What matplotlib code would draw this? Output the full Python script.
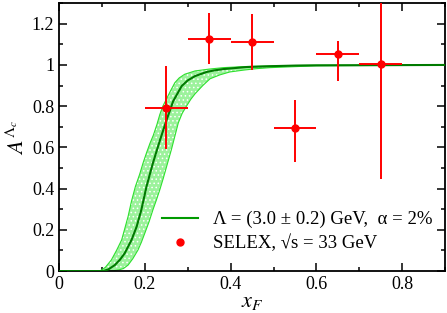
import matplotlib
matplotlib.use("Agg")
import matplotlib.pyplot as plt
from matplotlib.lines import Line2D
from matplotlib.ticker import MultipleLocator, FuncFormatter

# SELEX data points
x_data = [0.25, 0.35, 0.45, 0.55, 0.65, 0.75]
y_data = [0.793, 1.125, 1.112, 0.693, 1.054, 1.003]
y_err_lo = [0.20, 0.12, 0.135, 0.165, 0.13, 0.556]
y_err_hi = [0.20, 0.125, 0.137, 0.136, 0.061, 0.40]
x_err = [0.05, 0.05, 0.05, 0.05, 0.05, 0.05]

# central curve
x_mid = [0.0, 0.103, 0.115, 0.130, 0.142, 0.153, 0.169, 0.181, 0.192, 0.204,
         0.219, 0.235, 0.251, 0.266, 0.286, 0.300, 0.317, 0.344, 0.360, 0.383,
         0.437, 0.492, 0.55, 0.6, 0.9]
y_mid = [0.0, 0.0, 0.008, 0.029, 0.055, 0.086, 0.151, 0.216, 0.298, 0.411,
         0.525, 0.633, 0.735, 0.824, 0.898, 0.925, 0.946, 0.966, 0.973, 0.980,
         0.990, 0.994, 0.997, 0.998, 1.0]

# band edges
x_up = [0.0, 0.095, 0.108, 0.122, 0.134, 0.146, 0.161, 0.169, 0.178, 0.188,
        0.196, 0.204, 0.212, 0.220, 0.228, 0.235, 0.242, 0.250, 0.260, 0.270,
        0.280, 0.293, 0.317, 0.350, 0.383, 0.430, 0.492, 0.6, 0.9]
y_up = [0.0, 0.0, 0.018, 0.054, 0.100, 0.151, 0.265, 0.34, 0.41, 0.47,
        0.525, 0.574, 0.62, 0.66, 0.71, 0.76, 0.80, 0.833, 0.875, 0.914,
        0.937, 0.955, 0.971, 0.980, 0.987, 0.992, 0.995, 0.999, 1.0]
x_lo = [0.0, 0.122, 0.140, 0.150, 0.161, 0.172, 0.184, 0.192, 0.200, 0.210,
        0.219, 0.227, 0.235, 0.243, 0.251, 0.262, 0.278, 0.287, 0.297, 0.307,
        0.317, 0.335, 0.352, 0.375, 0.398, 0.430, 0.460, 0.492, 0.6, 0.9]
y_lo = [0.0, 0.0, 0.006, 0.012, 0.029, 0.060, 0.102, 0.140, 0.184, 0.240,
        0.298, 0.345, 0.395, 0.450, 0.509, 0.59, 0.719, 0.765, 0.800, 0.833,
        0.86, 0.900, 0.933, 0.952, 0.966, 0.975, 0.982, 0.987, 0.996, 1.0]

plt.rcParams["font.family"] = ["Liberation Serif", "DejaVu Serif"]
plt.rcParams["mathtext.fontset"] = "stix"
plt.rcParams["hatch.linewidth"] = 0.6

fig = plt.figure(figsize=(4.47, 3.13), dpi=100)
ax = fig.add_axes([0.132, 0.134, 0.864, 0.856])

# band: upper edge then lower edge reversed
poly_x = x_up + x_lo[::-1]
poly_y = y_up + y_lo[::-1]
ax.fill(poly_x, poly_y, facecolor="#9cf29c", edgecolor="white", hatch="....",
        linewidth=0, zorder=1)
ax.plot(x_up, y_up, color="#2ee02e", lw=0.8, zorder=2)
ax.plot(x_lo, y_lo, color="#2ee02e", lw=0.8, zorder=2)
ax.plot(x_mid, y_mid, color="#007a00", lw=1.5, zorder=3)

ax.errorbar(x_data, y_data, xerr=x_err, yerr=[y_err_lo, y_err_hi], fmt="o",
            color="red", ms=5, elinewidth=1.4, capsize=0, zorder=4)

ax.set_xlim(0, 0.9)
ax.set_ylim(0, 1.3)
ax.xaxis.set_major_locator(MultipleLocator(0.2))
ax.xaxis.set_minor_locator(MultipleLocator(0.1))
ax.yaxis.set_major_locator(MultipleLocator(0.2))
ax.yaxis.set_minor_locator(MultipleLocator(0.1))
fmt = FuncFormatter(lambda v, p: ("%g" % round(v, 2)))
ax.xaxis.set_major_formatter(fmt)
ax.yaxis.set_major_formatter(fmt)
ax.tick_params(which="both", direction="in", top=True, right=True,
               labelsize=13, width=1.1)
ax.tick_params(which="major", length=6)
ax.tick_params(which="minor", length=3)
for s in ax.spines.values():
    s.set_linewidth(1.3)

ax.set_xlabel(r"$x_F$", fontsize=16, labelpad=0)
ax.set_ylabel(r"$A^{\Lambda_c}$", fontsize=16, labelpad=2)

handles = [Line2D([], [], color="#009a00", lw=1.5),
           Line2D([], [], color="red", marker="o", ms=5, ls="none")]
labels = ["Λ = (3.0 ± 0.2) GeV,  α = 2%", "SELEX, √s = 33 GeV"]
ax.legend(handles, labels, loc="lower right", frameon=False, fontsize=13.5,
          handlelength=1.9, handletextpad=0.8, borderaxespad=0.3,
          labelspacing=0.35, bbox_to_anchor=(1.0, 0.02))

fig.savefig("out.png", dpi=100)
